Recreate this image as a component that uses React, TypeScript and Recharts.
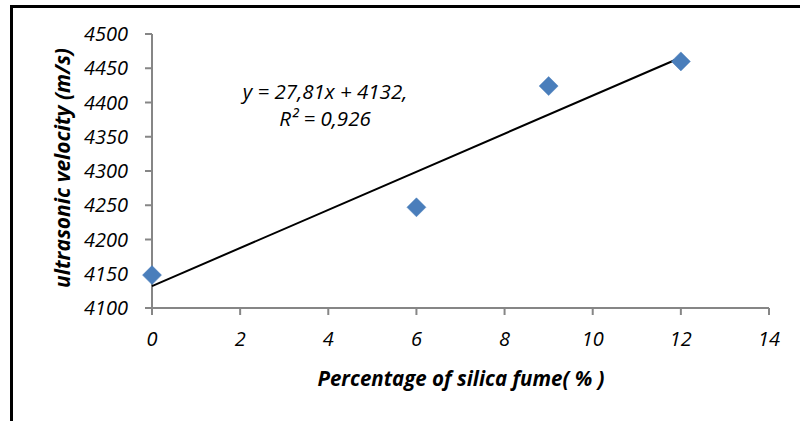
import React from 'react';
import { ScatterChart, Scatter, XAxis, YAxis, Customized } from 'recharts';

const silicaFume = [0, 6, 9, 12];
const velocity = [4148, 4247, 4424, 4460];
const trendX = [0, 12];
const trendY = [4132, 4465.7];
const xTicks = [0, 2, 4, 6, 8, 10, 12, 14];
const yTicks = [4100, 4150, 4200, 4250, 4300, 4350, 4400, 4450, 4500];
const equationLines = ['y = 27,81x + 4132,', 'R² = 0,926'];
const xTitle = 'Percentage of silica fume( % )';
const yTitle = 'ultrasonic velocity (m/s)';

const points = silicaFume.map((x, i) => ({ x, y: velocity[i] }));
const trend = trendX.map((x, i) => ({ x, y: trendY[i] }));

const FONT = '"Open Sans", sans-serif';
const AXIS = '#868686';

const Diamond = (props: any) => {
  const { cx, cy } = props;
  if (cx == null || cy == null) return null;
  const r = 9.5;
  return (
    <path
      d={`M${cx},${cy - r} L${cx + r},${cy} L${cx},${cy + r} L${cx - r},${cy} Z`}
      fill="#4A7EBB"
      stroke="#4A7EBB"
      strokeWidth={0.5}
    />
  );
};

const NoShape = () => null;

const Overlay = () => (
  <g fontFamily={FONT} fontStyle="italic" fill="#000">
    <text x={325} y={91} fontSize={20.5} textAnchor="middle" dominantBaseline="central">
      {equationLines[0]}
    </text>
    <text x={325} y={118} fontSize={20.5} textAnchor="middle" dominantBaseline="central">
      {equationLines[1]}
    </text>
    <text x={461} y={378} fontSize={20.5} fontWeight="bold" textAnchor="middle" dominantBaseline="central">
      {xTitle}
    </text>
    <text
      x={62}
      y={168}
      fontSize={21}
      fontWeight="bold"
      textAnchor="middle"
      dominantBaseline="central"
      transform="rotate(-90 62 168)"
    >
      {yTitle}
    </text>
  </g>
);

export default function App() {
  return (
    <div style={{ position: 'absolute', left: 0, top: 0, width: 800, height: 421, background: '#fff', overflow: 'hidden' }}>
      <div
        style={{
          position: 'absolute',
          left: 10,
          top: 5,
          width: 800,
          height: 430,
          borderLeft: '3px solid #000',
          borderTop: '3px solid #000',
        }}
      />
      <div style={{ position: 'absolute', left: 0, top: 0 }}>
        <ScatterChart width={800} height={421} margin={{ top: 34, right: 31, bottom: 73, left: 52 }}>
          <XAxis
            type="number"
            dataKey="x"
            domain={[0, 14]}
            ticks={xTicks}
            interval={0}
            axisLine={{ stroke: AXIS, strokeWidth: 2 }}
            tickLine={{ stroke: AXIS, strokeWidth: 2 }}
            tickSize={7}
            tickMargin={17}
            height={40}
            tick={{ fontFamily: FONT, fontStyle: 'italic', fontSize: 20, fill: '#000' }}
          />
          <YAxis
            type="number"
            dataKey="y"
            domain={[4100, 4500]}
            ticks={yTicks}
            interval={0}
            width={100}
            axisLine={{ stroke: AXIS, strokeWidth: 2 }}
            tickLine={{ stroke: AXIS, strokeWidth: 2 }}
            tickSize={7}
            tickMargin={17}
            tick={{ fontFamily: FONT, fontStyle: 'italic', fontSize: 20, fill: '#000' }}
          />
          <Scatter
            data={trend}
            line={{ stroke: '#000', strokeWidth: 2 }}
            shape={NoShape}
            isAnimationActive={false}
          />
          <Scatter data={points} shape={Diamond} isAnimationActive={false} />
          <Customized component={Overlay} />
        </ScatterChart>
      </div>
    </div>
  );
}
